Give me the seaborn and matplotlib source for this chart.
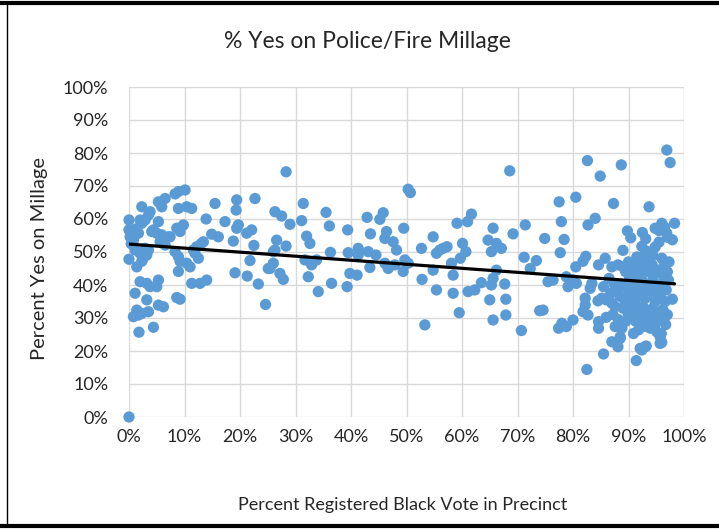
import matplotlib
matplotlib.use("Agg")
import matplotlib.pyplot as plt
from matplotlib.lines import Line2D
from matplotlib.ticker import PercentFormatter, MultipleLocator
import numpy as np
import pandas as pd
import seaborn as sns

# precinct share of black registered voters (%), and % yes on the millage
black_pct = [
    # 0-12%
    0, 0, 0, 0.2, 0.8, 0, 1.4, 2.3, 2, 2.3, 1.7, 2.9, 3.5, 3.8, 5.3, 5.3, 6.5, 5.9,
    8.3, 8.9, 10.1, 8.9, 10.4, 11.3, 4.1, 5, 5.9, 7.1, 5.6, 6.5, 8.6, 9.8, 9.2,
    1.1, 2, 2.6, 3.2, 3.5, 2.9, 2.3, 8.3, 8.9, 9.2, 8.9, 10.4, 11, 11.9, 12.5,
    12.2, 11.3, 12.8, 2, 3.2, 3.8, 5, 5.3, 1.1, 3.2, 5.3, 6.2, 8.6, 9.2, 1.4,
    0.8, 1.7, 2.3, 3.5, 1.8, 4.4, 0.5, 1.2, 0.4, 7.4, 4.4, 11.6, 13.4,
    # 12-30%
    14, 13.9, 15.5, 14.9, 16.1, 13, 17.3, 18.8, 19.1, 19.3, 19.4, 19.4, 19.7,
    21.2, 22.1, 21.3, 21.8, 22.7, 23.3, 22.5, 24.6, 25.4, 26, 26, 26.6, 28.3,
    26.3, 27.5, 27.2, 27.8, 28.3, 29, 26.3, 25.1,
    # 30-50%
    31.4, 31.1, 32, 32.6, 31.7, 32.9, 33.8, 32.3, 34.1, 35.5, 36.1, 36.3, 36.5,
    39.4, 39.5, 39.8, 41.1, 39.3, 41.3, 41.3, 42.9, 43.5, 43.1, 44.5, 43.4,
    45.2, 45.8, 46.4, 46.1, 46.1, 46.7, 47.6, 48.2, 47.9, 49.5, 49.7, 49.4,
    # 50-75%
    50.3, 50.7, 50.3, 52.7, 52.8, 53.3, 54.8, 55.4, 56, 56.6, 57.3, 54.8, 55.4,
    58.1, 58.4, 58.4, 59.5, 59.1, 61, 61.7, 60.1, 60.7, 59.7, 61.1, 62.3, 63.5,
    65, 65.6, 65.6, 64.7, 65.3, 66.2, 67.1, 65.3, 66.2, 65.6, 67.7, 67.9, 67.9,
    68.6, 69.2, 71.4, 71.2, 72.3, 73.4, 70.7, 74,
    # 74-100%
    74.9, 74.6, 75.5, 76.4, 77.5, 77.9, 78.4, 77.7, 78.8, 80, 80.6, 79.1, 80.5,
    81.8, 82.3, 80.5, 82.6, 84.9, 88.7, 87.3, 84, 82.7, 77.4, 78, 78.8, 80,
    82.2, 82.2, 81.8, 82.7, 83.4, 83.1, 82.5, 84.6, 84.6, 85.5, 87, 88.1, 88.5,
    87.6, 88.8, 84.6, 85.8, 87, 88.1, 89, 85.2, 86, 87, 87.6, 91.4, 92.1, 93.2,
    95.9, 96, 97.9, 91.2, 92.4, 93.3, 94.2, 96, 96.3, 96.9, 97.5, 93.7, 89.8,
    92.5, 94.8, 96, 96.9, 98.3, 95.7, 93, 92.4, 88.5, 90.9, 91.8, 92.7, 93.9,
    95.1, 95.7, 90.4, 93.1, 97.9, 93, 94.4, 95.5, 96.5, 97,
    # dense block 85-98%
    89.5, 90.2, 91, 91.8, 92.5, 93.4, 94.3, 95, 95.8, 96.5, 97,
    89, 90, 90.8, 91.7, 92.6, 93.5, 94.4, 95.2, 96.1, 96.8,
    88.5, 89.4, 90.3, 91.2, 92.1, 93, 93.9, 94.8, 95.7, 96.6,
    89, 89.9, 90.8, 91.7, 92.6, 93.5, 94.4, 95.3, 96.2, 97,
    89.5, 90.4, 91.3, 92.2, 93.1, 94, 94.9, 95.8, 96.7,
    86.5, 87.5, 88, 86.8, 85.5, 84.5, 86, 87.2, 88.2,
    90, 91.5, 89, 93, 94.8, 95.5, 97.2, 97.3, 93.8, 92,
]
yes_pct = [
    # 0-12%
    0, 59.7, 56.7, 54.6, 53.6, 47.8, 45.5, 63.7, 59.7, 58.7, 55.7, 59.7, 61.2,
    62.2, 59.2, 65.2, 66.2, 63.7, 67.6, 68.3, 68.8, 63.2, 63.7, 63.2, 56.2, 55.7,
    55.2, 54.6, 53.1, 52.1, 57.2, 58.2, 56.2, 50.6, 49.6, 48.1, 49.1, 50.6, 51.1,
    47.2, 50.1, 48.6, 47.2, 44.1, 46.6, 45.5, 49.6, 48.1, 51.6, 40.5, 40.5, 41,
    40.5, 39.5, 39.5, 41.5, 37.5, 35.5, 33.9, 33.4, 36.2, 35.7, 32.4, 30.4, 30.9,
    31.4, 31.9, 25.7, 27.2, 55.5, 57, 52.5, 54.6, 56.7, 50.6, 53.1,
    # 12-30%
    41.5, 60, 64.7, 55.4, 54.6, 52.5, 59.2, 53.3, 43.7, 62.7, 65.8, 57.2, 58.2,
    55.7, 56.7, 42.7, 47.4, 66.2, 40.3, 52, 34.1, 45, 46.6, 50.1, 53.6, 51.8,
    62.2, 60.9, 43.5, 41.7, 74.3, 58.4, 50.6, 45,
    # 30-50%
    64.7, 59.5, 54.8, 52.6, 47.6, 46.1, 47.6, 42.5, 38, 62, 57.9, 49.9, 40.5,
    56.7, 49.8, 43.5, 43, 39.5, 51.1, 49.1, 60.5, 55.5, 50.1, 49.1, 45.3,
    59.9, 61.9, 56.2, 54.1, 46.6, 45, 53.1, 50.6, 46.1, 57.2, 47.6, 44.1,
    # 50-75%
    69, 68, 46.6, 51.1, 41.7, 27.9, 54.6, 49.6, 50.6, 51.1, 51.6, 44.5, 38.5,
    46.6, 43, 37.5, 31.6, 58.7, 59.2, 61.5, 52.6, 50.1, 48.1, 38, 38.5, 40.7,
    35.5, 29.4, 57.2, 53.6, 50.1, 52.6, 51.1, 40, 44.5, 42, 40.3, 35.7, 30.9,
    74.6, 55.5, 58.2, 48.4, 45, 47.4, 26.2, 32.2,
    # 74-100%
    54.1, 32.4, 41, 41.5, 65.2, 59.2, 53.8, 49.8, 42.5, 41.5, 40.5, 39.5, 45.5,
    47.2, 48.7, 66.6, 77.7, 73, 76.4, 64.7, 60.2, 58.2, 26.9, 28.4, 27.4, 29.4,
    36, 33.9, 31.9, 30.9, 40.5, 39, 14.4, 28.9, 26.9, 19.1, 22.8, 21.3, 23.8,
    27.4, 26.9, 46.1, 48.1, 45.5, 46.1, 45.5, 36, 35.5, 34.5, 33.4, 17.1, 20.8,
    21.5, 25.3, 22.6, 35.7, 47.2, 51.7, 50.2, 49.6, 48.1, 45.5, 80.9, 77.1,
    63.7, 56.4, 55.9, 57.2, 58.7, 55.7, 58.7, 22.3, 21.3, 20.3, 24.3, 25.3,
    26.4, 27.4, 26.9, 25.8, 24.3, 54.3, 54, 53.7, 50, 48.9, 56.5, 57.5, 54.5,
    # dense block 85-98%
    44, 42.5, 44.5, 43, 45.5, 44, 46, 43.5, 44.5, 42.5, 44,
    40, 38.5, 40.5, 39, 41, 39.5, 41.5, 39, 40.5, 38.5,
    36.5, 35, 37, 35.5, 37.5, 36, 37.5, 35, 36.5, 35,
    33, 31.5, 33.5, 32, 33.5, 31, 33, 31.5, 32.5, 31,
    29, 30.5, 29, 30, 28.5, 30, 28.5, 29.5, 28,
    42, 40, 38, 37.5, 39.5, 35.2, 30.2, 31, 29.5,
    47, 48.5, 50.5, 48, 51.5, 53, 41.5, 47, 46.8, 46.2,
]

df = pd.DataFrame({"black": np.array(black_pct) / 100, "yes": np.array(yes_pct) / 100})

sns.set_theme(style="whitegrid")
plt.rcParams["font.family"] = ["Lato", "DejaVu Sans"]

W, H = 719, 529
fig = plt.figure(figsize=(W / 100, H / 100), dpi=100)
ax = fig.add_axes([129 / W, 1 - 417 / H, (684 - 129) / W, (417 - 87) / H])

blue = "#5B9BD5"
sns.scatterplot(data=df, x="black", y="yes", ax=ax, color=blue, s=66,
                edgecolor="none", linewidth=0, clip_on=False, zorder=3)
sns.regplot(data=df, x="black", y="yes", ax=ax, scatter=False, ci=None,
            color="black", line_kws={"linewidth": 2.3, "zorder": 4})

ax.set_xlim(0, 1)
ax.set_ylim(0, 1)
ax.xaxis.set_major_locator(MultipleLocator(0.1))
ax.yaxis.set_major_locator(MultipleLocator(0.1))
ax.xaxis.set_major_formatter(PercentFormatter(1.0, decimals=0))
ax.yaxis.set_major_formatter(PercentFormatter(1.0, decimals=0))
ax.set_facecolor("white")
ax.grid(True, color="#D9D9D9", linewidth=1.0)
for sp in ax.spines.values():
    sp.set_visible(False)
ax.tick_params(axis="x", labelsize=13, pad=9, length=0, colors="#262626")
ax.tick_params(axis="y", labelsize=13, pad=15, length=0, colors="#262626")

ax.set_xlabel("")
ax.set_ylabel("")
fig.text(403 / W, 1 - 505 / H, "Percent Registered Black Vote in Precinct",
         ha="center", va="center", fontsize=13, color="#262626")
fig.text(40 / W, 1 - 259 / H, "Percent Yes on Millage", rotation=90,
         ha="center", va="center", fontsize=14.5, color="#262626")
fig.text(367 / W, 1 - 42 / H, "% Yes on Police/Fire Millage",
         ha="center", va="center", fontsize=16.5, color="#262626")

# frame of the original picture
fig.add_artist(Line2D([0, 1], [1 - 3 / H, 1 - 3 / H], color="black", linewidth=3))
fig.add_artist(Line2D([0, 1], [1 - 526 / H, 1 - 526 / H], color="black", linewidth=3))
fig.add_artist(Line2D([7 / W, 7 / W], [1 - 526 / H, 1 - 3 / H], color="black", linewidth=1))

fig.savefig("out.png", dpi=100)
